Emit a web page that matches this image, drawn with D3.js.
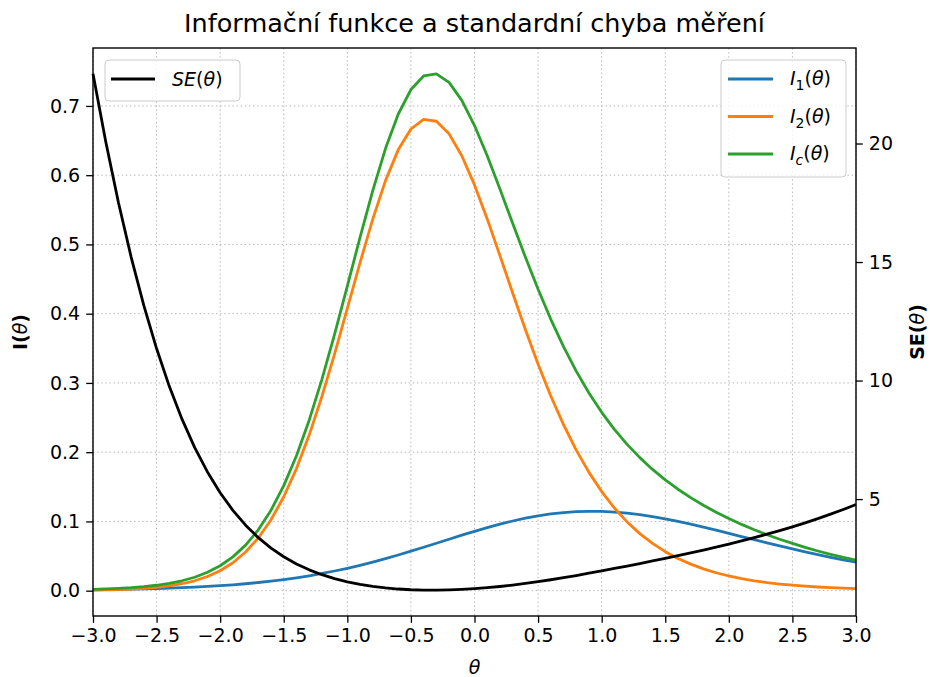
<!DOCTYPE html>
<html>
<head>
<meta charset="utf-8">
<script src="https://cdn.jsdelivr.net/npm/d3@7"></script>
<style>
body { margin: 0; background: #fff; }
svg text { font-family: "DejaVu Sans", sans-serif; fill: #000; }
.axis text { font-size: 19px; }
.axis line { stroke: #000; stroke-width: 1.3; }
.axis path { display: none; }
.grid line { stroke: #b8b8b8; stroke-width: 1; stroke-dasharray: 1.5,2.6; }
.line { fill: none; stroke-width: 2.8; stroke-linejoin: round; }
</style>
</head>
<body>
<svg id="chart" width="930" height="677"></svg>
<script>
// theta grid (step 0.1)
var theta = [-3.0,-2.9,-2.8,-2.7,-2.6,-2.5,-2.4,-2.3,-2.2,-2.1,
  -2.0,-1.9,-1.8,-1.7,-1.6,-1.5,-1.4,-1.3,-1.2,-1.1,
  -1.0,-0.9,-0.8,-0.7,-0.6,-0.5,-0.4,-0.3,-0.2,-0.1,
  0.0,0.1,0.2,0.3,0.4,0.5,0.6,0.7,0.8,0.9,
  1.0,1.1,1.2,1.3,1.4,1.5,1.6,1.7,1.8,1.9,
  2.0,2.1,2.2,2.3,2.4,2.5,2.6,2.7,2.8,2.9,
  3.0];

var info1 = [0.0012,0.0015,0.0018,0.0021,0.0025,0.0030,0.0036,0.0043,0.0051,0.0061,
  0.0072,0.0085,0.0100,0.0118,0.0138,0.0161,0.0186,0.0215,0.0248,0.0284,
  0.0323,0.0366,0.0413,0.0462,0.0515,0.0570,0.0627,0.0685,0.0743,0.0801,
  0.0857,0.0910,0.0960,0.1006,0.1046,0.1080,0.1108,0.1128,0.1141,0.1146,
  0.1144,0.1135,0.1119,0.1097,0.1069,0.1037,0.1000,0.0961,0.0918,0.0874,
  0.0828,0.0782,0.0736,0.0691,0.0646,0.0603,0.0561,0.0520,0.0482,0.0445,
  0.0411];

var info2 = [0.0007,0.0010,0.0015,0.0022,0.0032,0.0047,0.0069,0.0100,0.0143,0.0204,
  0.0288,0.0403,0.0558,0.0761,0.1024,0.1356,0.1763,0.2247,0.2804,0.3421,
  0.4076,0.4737,0.5366,0.5922,0.6366,0.6667,0.6806,0.6779,0.6597,0.6281,
  0.5860,0.5369,0.4839,0.4299,0.3771,0.3271,0.2811,0.2397,0.2029,0.1708,
  0.1431,0.1194,0.0993,0.0824,0.0682,0.0563,0.0464,0.0383,0.0315,0.0259,
  0.0212,0.0174,0.0143,0.0117,0.0096,0.0079,0.0065,0.0053,0.0043,0.0036,
  0.0029];

var infoC = [0.0019,0.0025,0.0033,0.0043,0.0058,0.0078,0.0105,0.0143,0.0194,0.0265,
  0.0360,0.0488,0.0658,0.0879,0.1162,0.1517,0.1949,0.2462,0.3052,0.3705,
  0.4399,0.5103,0.5778,0.6384,0.6880,0.7237,0.7433,0.7464,0.7340,0.7081,
  0.6717,0.6280,0.5800,0.5305,0.4817,0.4352,0.3919,0.3525,0.3170,0.2855,
  0.2576,0.2329,0.2113,0.1921,0.1751,0.1600,0.1465,0.1343,0.1233,0.1133,
  0.1041,0.0957,0.0879,0.0808,0.0742,0.0682,0.0625,0.0573,0.0525,0.0481,
  0.0440];

var se = [22.94,20.08,17.51,15.21,13.16,11.35,9.756,8.371,7.173,6.145,
  5.268,4.525,3.898,3.372,2.933,2.568,2.265,2.015,1.810,1.643,
  1.508,1.400,1.316,1.252,1.206,1.176,1.160,1.157,1.167,1.188,
  1.220,1.262,1.313,1.373,1.441,1.516,1.597,1.684,1.776,1.872,
  1.970,2.072,2.176,2.282,2.390,2.500,2.613,2.729,2.848,2.972,
  3.100,3.233,3.372,3.518,3.670,3.831,3.999,4.177,4.364,4.561,
  4.769];

var xTicks = [-3.0,-2.5,-2.0,-1.5,-1.0,-0.5,0.0,0.5,1.0,1.5,2.0,2.5,3.0];
var yTicks = [0.0,0.1,0.2,0.3,0.4,0.5,0.6,0.7];
var seTicks = [5,10,15,20];

var svg = d3.select('#chart')
  , L = 93, R = 856, T = 48, B = 616
  , tickLen = 6.8;

// scales: matplotlib-style 5% margins on y
var allI = info1.concat(info2, infoC)
  , iMin = d3.min(allI), iMax = d3.max(allI), iPad = (iMax - iMin) * 0.05
  , sMin = d3.min(se), sMax = d3.max(se), sPad = (sMax - sMin) * 0.05;

var x = d3.scaleLinear().domain([-3, 3]).range([L, R])
  , y = d3.scaleLinear().domain([iMin - iPad, iMax + iPad]).range([B, T])
  , y2 = d3.scaleLinear().domain([sMin - sPad, sMax + sPad]).range([B, T]);

// grid (x ticks and left axis only)
var grid = svg.append('g').attr('class', 'grid');
grid.selectAll('.gx').data(xTicks).enter().append('line')
  .attr('x1', d => x(d)).attr('x2', d => x(d)).attr('y1', T).attr('y2', B);
grid.selectAll('.gy').data(yTicks).enter().append('line')
  .attr('y1', d => y(d)).attr('y2', d => y(d)).attr('x1', L).attr('x2', R);

var lineI = function(vals) {
  return d3.line().x((d, i) => x(theta[i])).y(d => y(d))(vals);
};

svg.append('path').attr('class', 'line').attr('stroke', '#1f77b4').attr('d', lineI(info1));
svg.append('path').attr('class', 'line').attr('stroke', '#ff7f0e').attr('d', lineI(info2));
svg.append('path').attr('class', 'line').attr('stroke', '#2ca02c').attr('d', lineI(infoC));

svg.append('path').attr('class', 'line').attr('stroke', '#000')
  .attr('d', d3.line().x((d, i) => x(theta[i])).y(d => y2(d))(se));

// axes
var fmt = d3.format('.1f');
svg.append('g').attr('class', 'axis').attr('transform', `translate(0,${B})`)
  .call(d3.axisBottom(x).tickValues(xTicks).tickFormat(fmt).tickSize(tickLen).tickPadding(6));
svg.append('g').attr('class', 'axis').attr('transform', `translate(${L},0)`)
  .call(d3.axisLeft(y).tickValues(yTicks).tickFormat(fmt).tickSize(tickLen).tickPadding(6));
svg.append('g').attr('class', 'axis').attr('transform', `translate(${R},0)`)
  .call(d3.axisRight(y2).tickValues(seTicks).tickFormat(d3.format('d')).tickSize(tickLen).tickPadding(6));

svg.append('rect').attr('x', L).attr('y', T).attr('width', R - L).attr('height', B - T)
  .attr('fill', 'none').attr('stroke', '#000').attr('stroke-width', 1.4);

// title & labels
svg.append('text').attr('x', (L + R) / 2).attr('y', 32).attr('text-anchor', 'middle')
  .attr('font-size', 25.5).text('Informační funkce a standardní chyba měření');

var xl = svg.append('text').attr('x', (L + R) / 2).attr('y', 674).attr('text-anchor', 'middle')
  .attr('font-size', 19).attr('font-style', 'italic').text('θ');

var yl = svg.append('text').attr('transform', `translate(27,${(T + B) / 2}) rotate(-90)`)
  .attr('text-anchor', 'middle').attr('font-size', 19).attr('font-weight', 'bold');
yl.append('tspan').text('I(');
yl.append('tspan').attr('font-style', 'italic').attr('font-weight', 'normal').text('θ');
yl.append('tspan').text(')');

var yl2 = svg.append('text').attr('transform', `translate(924,${(T + B) / 2}) rotate(-90)`)
  .attr('text-anchor', 'middle').attr('font-size', 19).attr('font-weight', 'bold');
yl2.append('tspan').text('SE(');
yl2.append('tspan').attr('font-style', 'italic').attr('font-weight', 'normal').text('θ');
yl2.append('tspan').text(')');

// math-ish label writer
var mathLabel = function(sel, base, sub, subItalic) {
  sel.append('tspan').attr('font-style', 'italic').text(base);
  if (sub) {
    sel.append('tspan').attr('font-size', 14).attr('dy', 5)
      .attr('font-style', subItalic ? 'italic' : 'normal').text(sub);
    sel.append('tspan').attr('dy', -5).text('(');
  } else {
    sel.append('tspan').text('(');
  }
  sel.append('tspan').attr('font-style', 'italic').text('θ');
  sel.append('tspan').text(')');
};

// left legend (SE)
var lg1 = svg.append('g');
lg1.append('rect').attr('x', 105).attr('y', 60).attr('width', 135).attr('height', 41)
  .attr('rx', 4).attr('fill', '#fff').attr('fill-opacity', 0.8).attr('stroke', '#cccccc');
lg1.append('line').attr('x1', 111).attr('x2', 155).attr('y1', 79).attr('y2', 79)
  .attr('stroke', '#000').attr('stroke-width', 2.8);
mathLabel(lg1.append('text').attr('x', 172).attr('y', 86).attr('font-size', 19), 'SE');

// right legend (information functions)
var legItems = [
  {base: 'I', sub: '1', it: false, color: '#1f77b4'},
  {base: 'I', sub: '2', it: false, color: '#ff7f0e'},
  {base: 'I', sub: 'c', it: true, color: '#2ca02c'}
];
var lg2 = svg.append('g');
lg2.append('rect').attr('x', 721).attr('y', 60).attr('width', 125).attr('height', 117)
  .attr('rx', 4).attr('fill', '#fff').attr('fill-opacity', 0.8).attr('stroke', '#cccccc');
legItems.forEach(function(d, i) {
  var yy = 79 + i * 37.5;
  lg2.append('line').attr('x1', 728).attr('x2', 773).attr('y1', yy).attr('y2', yy)
    .attr('stroke', d.color).attr('stroke-width', 2.8);
  mathLabel(lg2.append('text').attr('x', 790).attr('y', yy + 6).attr('font-size', 19), d.base, d.sub, d.it);
});
</script>
</body>
</html>
